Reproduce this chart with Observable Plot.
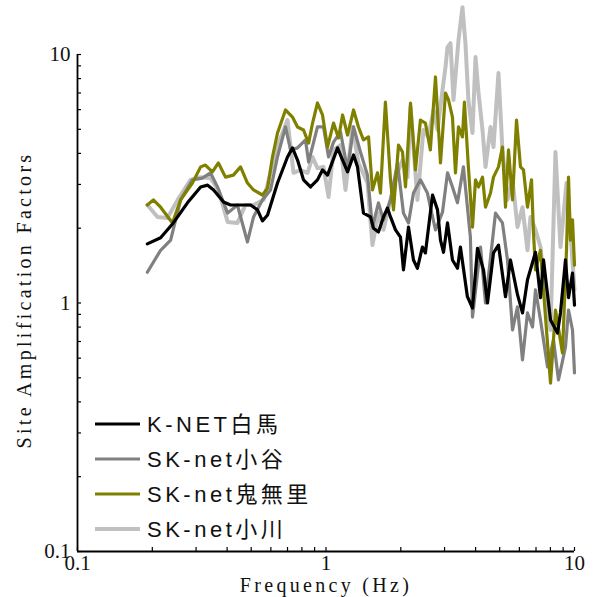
<!DOCTYPE html>
<html>
<head>
<meta charset="utf-8">
<script src="https://cdn.jsdelivr.net/npm/d3@7"></script>
<script src="https://cdn.jsdelivr.net/npm/@observablehq/plot@0.6"></script>
<style>
  html, body { margin: 0; padding: 0; background: #fff; }
  svg { display: block; }
</style>
</head>
<body>
<div id="chart"></div>
<script>
// ---- data (frequency Hz, amplification factor) ----
const seriesNames = ["K-NET白馬", "SK-net小谷", "SK-net鬼無里", "SK-net小川"];
const seriesColors = ["#000000", "#808080", "#808000", "#c0c0c0"];
const seriesWidths = [3.2, 3.2, 3.2, 4];

const hakuba = [
  [0.191,1.73],[0.216,1.83],[0.243,2.10],[0.277,2.53],[0.313,2.93],[0.334,2.98],[0.353,2.85],
  [0.387,2.55],[0.413,2.48],[0.466,2.48],[0.497,2.48],[0.530,2.37],[0.555,2.14],[0.582,2.26],
  [0.638,3.04],[0.700,3.87],[0.733,4.21],[0.768,3.76],[0.812,3.13],[0.866,2.93],[0.924,3.13],
  [0.968,3.43],[1.014,3.27],[1.113,4.21],[1.144,3.94],[1.221,3.37],[1.291,3.94],[1.339,3.53],
  [1.415,2.30],[1.510,2.22],[1.553,2.00],[1.626,1.93],[1.703,2.22],[1.767,2.41],[1.818,2.22],
  [1.904,1.97],[1.994,1.84],[2.050,1.36],[2.148,2.02],[2.249,1.49],[2.333,1.38],[2.443,1.68],
  [2.512,1.59],[2.684,2.72],[2.810,2.37],[2.889,1.79],[2.971,1.60],[3.083,2.10],[3.228,1.49],
  [3.381,1.38],[3.475,1.68],[3.707,1.06],[3.886,0.955],[4.071,1.66],[4.303,1.36],[4.466,1.00],
  [4.721,1.59],[4.944,1.71],[5.276,1.06],[5.526,1.49],[5.897,1.08],[6.176,0.912],[6.469,1.24],
  [6.966,1.60],[7.298,1.05],[7.504,1.49],[8.008,0.854],[8.541,0.757],[8.782,0.912],[9.199,1.49],
  [9.460,1.05],[9.817,1.32],[10.0,0.98]
];

const otari = [
  [0.191,1.33],[0.216,1.63],[0.237,1.79],[0.260,2.60],[0.290,3.13],[0.318,3.18],[0.343,3.34],
  [0.366,2.93],[0.402,2.30],[0.440,2.48],[0.483,1.76],[0.511,2.22],[0.555,2.60],[0.598,2.85],
  [0.638,3.87],[0.687,5.11],[0.720,4.13],[0.768,4.21],[0.827,4.53],[0.851,3.69],[0.924,5.11],
  [0.977,5.11],[1.024,3.87],[1.072,4.44],[1.144,4.88],[1.221,3.43],[1.291,5.11],[1.376,4.05],
  [1.469,3.27],[1.538,2.02],[1.626,2.53],[1.703,2.16],[1.818,2.60],[1.940,3.66],[2.050,2.30],
  [2.148,2.10],[2.249,2.77],[2.399,3.13],[2.559,2.77],[2.684,2.22],[2.758,1.97],[2.943,2.32],
  [3.083,3.34],[3.228,2.93],[3.381,2.53],[3.573,3.53],[3.811,1.84],[3.886,0.878],[4.186,1.68],
  [4.384,1.00],[4.809,2.30],[5.129,2.10],[5.374,1.49],[5.630,0.779],[5.897,0.964],[6.176,0.590],
  [6.469,0.912],[6.776,0.80],[6.966,1.13],[7.298,0.854],[7.788,0.553],[8.232,0.710],[8.620,0.490],
  [9.199,0.665],[9.460,0.937],[9.817,0.779],[10.0,0.523]
];

const kinasa = [
  [0.191,2.48],[0.202,2.60],[0.216,2.43],[0.241,2.10],[0.260,2.60],[0.290,3.04],[0.313,3.53],
  [0.327,3.59],[0.349,3.37],[0.369,3.66],[0.394,3.21],[0.424,3.27],[0.453,3.53],[0.483,3.04],
  [0.511,2.85],[0.555,2.72],[0.582,2.90],[0.609,3.87],[0.638,4.83],[0.687,5.98],[0.733,5.60],
  [0.768,5.11],[0.812,4.97],[0.851,4.40],[0.883,5.30],[0.924,6.38],[0.968,5.71],[1.014,4.24],
  [1.072,5.30],[1.123,4.61],[1.166,5.71],[1.221,4.74],[1.291,5.98],[1.351,5.11],[1.415,4.53],
  [1.483,4.66],[1.538,2.85],[1.611,3.34],[1.656,2.77],[1.734,6.44],[1.818,3.13],[1.869,2.37],
  [1.958,4.32],[2.032,4.05],[2.089,2.93],[2.188,6.38],[2.291,3.43],[2.399,5.45],[2.512,5.30],
  [2.630,4.13],[2.758,8.12],[2.889,3.66],[3.026,7.00],[3.112,6.56],[3.228,5.60],[3.319,3.34],
  [3.413,5.11],[3.541,4.66],[3.606,6.44],[3.741,3.53],[3.886,2.02],[3.996,3.13],[4.109,2.93],
  [4.264,3.21],[4.384,2.43],[4.592,2.77],[4.721,3.21],[4.944,3.53],[5.129,4.24],[5.276,2.43],
  [5.425,4.13],[5.630,2.60],[5.843,5.45],[6.063,3.53],[6.234,3.43],[6.469,2.43],[6.714,3.13],
  [6.840,1.91],[6.966,1.36],[7.298,1.63],[7.645,0.878],[8.008,0.476],[8.384,0.937],[8.947,0.629],
  [9.286,1.63],[9.460,3.21],[9.636,1.79],[9.817,2.16],[10.0,1.42]
];

const ogawa = [
  [0.191,2.48],[0.210,2.22],[0.230,2.20],[0.253,2.60],[0.285,3.13],[0.313,3.21],[0.343,3.18],
  [0.369,2.85],[0.402,2.12],[0.440,2.10],[0.474,2.48],[0.511,2.48],[0.561,2.60],[0.598,3.34],
  [0.644,4.40],[0.700,5.45],[0.740,3.34],[0.790,3.43],[0.843,3.34],[0.883,3.87],[0.924,3.49],
  [0.977,3.53],[1.024,2.67],[1.072,4.13],[1.144,4.32],[1.198,2.85],[1.279,5.11],[1.351,3.66],
  [1.469,3.04],[1.538,1.71],[1.626,2.30],[1.703,1.97],[1.818,2.60],[1.940,3.34],[2.032,3.76],
  [2.128,3.21],[2.188,6.15],[2.333,2.60],[2.466,4.97],[2.582,4.66],[2.708,5.98],[2.810,4.97],
  [2.943,7.20],[3.026,8.91],[3.083,10.7],[3.170,11.1],[3.258,6.56],[3.413,11.4],[3.541,15.5],
  [3.640,11.1],[3.741,6.56],[3.886,4.83],[3.996,9.77],[4.109,7.00],[4.264,4.97],[4.384,3.53],
  [4.592,5.11],[4.721,4.24],[4.944,8.43],[5.129,4.13],[5.374,2.60],[5.630,3.13],[5.897,2.02],
  [6.176,2.43],[6.469,1.63],[6.651,2.22],[6.966,1.97],[7.298,1.68],[7.645,1.03],[8.008,0.779],
  [8.384,4.05],[8.782,1.68],[9.286,3.04],[9.636,1.91],[10.0,1.13]
];

const majorTicks = [0.1, 1, 10];
const majorLabels = ["0.1", "1", "10"];
const minorTicks = [0.2,0.3,0.4,0.5,0.6,0.7,0.8,0.9,2,3,4,5,6,7,8,9];
const xTitle = "Frequency (Hz)";
const yTitle = "Site Amplification Factors";

// ---- chart ----
const W = 594, H = 597;
const mL = 77, mR = 20, mT = 54, mB = 46;
const serif = "'Liberation Serif', 'Times New Roman', serif";
const tickFmt = d => majorLabels[majorTicks.indexOf(d)];
const allTicks = majorTicks.concat(minorTicks);
const innerW = W - mL - mR, innerH = H - mT - mB;

const seriesData = [hakuba, otari, kinasa, ogawa];
const drawOrder = [3, 1, 2, 0];

const chart = Plot.plot({
  width: W, height: H,
  marginLeft: mL, marginRight: mR, marginTop: mT, marginBottom: mB,
  x: {type: "log", domain: [0.1, 10]},
  y: {type: "log", domain: [0.1, 10]},
  style: {background: "#fff", overflow: "visible"},
  marks: [
    ...drawOrder.map(i => Plot.line(seriesData[i], {
      x: d => d[0], y: d => d[1],
      stroke: seriesColors[i], strokeWidth: seriesWidths[i],
      strokeLinejoin: "round", strokeLinecap: "round"
    })),
    Plot.axisX(majorTicks, {tickSize: 0, tickPadding: 4, tickFormat: tickFmt, fontSize: 21, fontFamily: serif, label: null, fill: "#111"}),
    Plot.axisY(majorTicks, {tickSize: 0, tickPadding: 7, tickFormat: tickFmt, fontSize: 21, fontFamily: serif, label: null, fill: "#111"}),
    Plot.tickX(allTicks, {x: d => d, insetTop: innerH - 4, stroke: "#000", strokeWidth: 1.2}),
    Plot.tickY(allTicks, {y: d => d, insetRight: innerW - 4, stroke: "#000", strokeWidth: 1.2}),
    Plot.ruleX([0.1], {stroke: "#000", strokeWidth: 1.8}),
    Plot.ruleY([0.1], {stroke: "#000", strokeWidth: 1.8})
  ]
});

// axis titles
const svg = d3.select(chart);
svg.append("text")
  .attr("x", 326).attr("y", 592)
  .attr("text-anchor", "middle")
  .style("font-family", serif).style("font-size", "20px").style("letter-spacing", "3.3px")
  .attr("fill", "#111")
  .text(xTitle);
svg.append("text")
  .attr("transform", "translate(31,300) rotate(-90)")
  .attr("text-anchor", "middle")
  .style("font-family", serif).style("font-size", "20px").style("letter-spacing", "3.3px")
  .attr("fill", "#111")
  .text(yTitle);

// legend inside the plot
const lg = svg.append("g");
seriesNames.forEach((name, i) => {
  const y = 424 + i * 35;
  lg.append("line").attr("x1", 95).attr("x2", 140).attr("y1", y).attr("y2", y)
    .attr("stroke", seriesColors[i]).attr("stroke-width", seriesWidths[i]);
  lg.append("text").attr("x", 147).attr("y", y + 8)
    .attr("text-anchor", "start")
    .style("font-family", "'Liberation Sans', 'Noto Sans CJK JP', sans-serif")
    .style("font-size", "22px").style("letter-spacing", "3.5px")
    .attr("fill", "#111")
    .text(name);
});

document.getElementById("chart").appendChild(chart);
</script>
</body>
</html>
